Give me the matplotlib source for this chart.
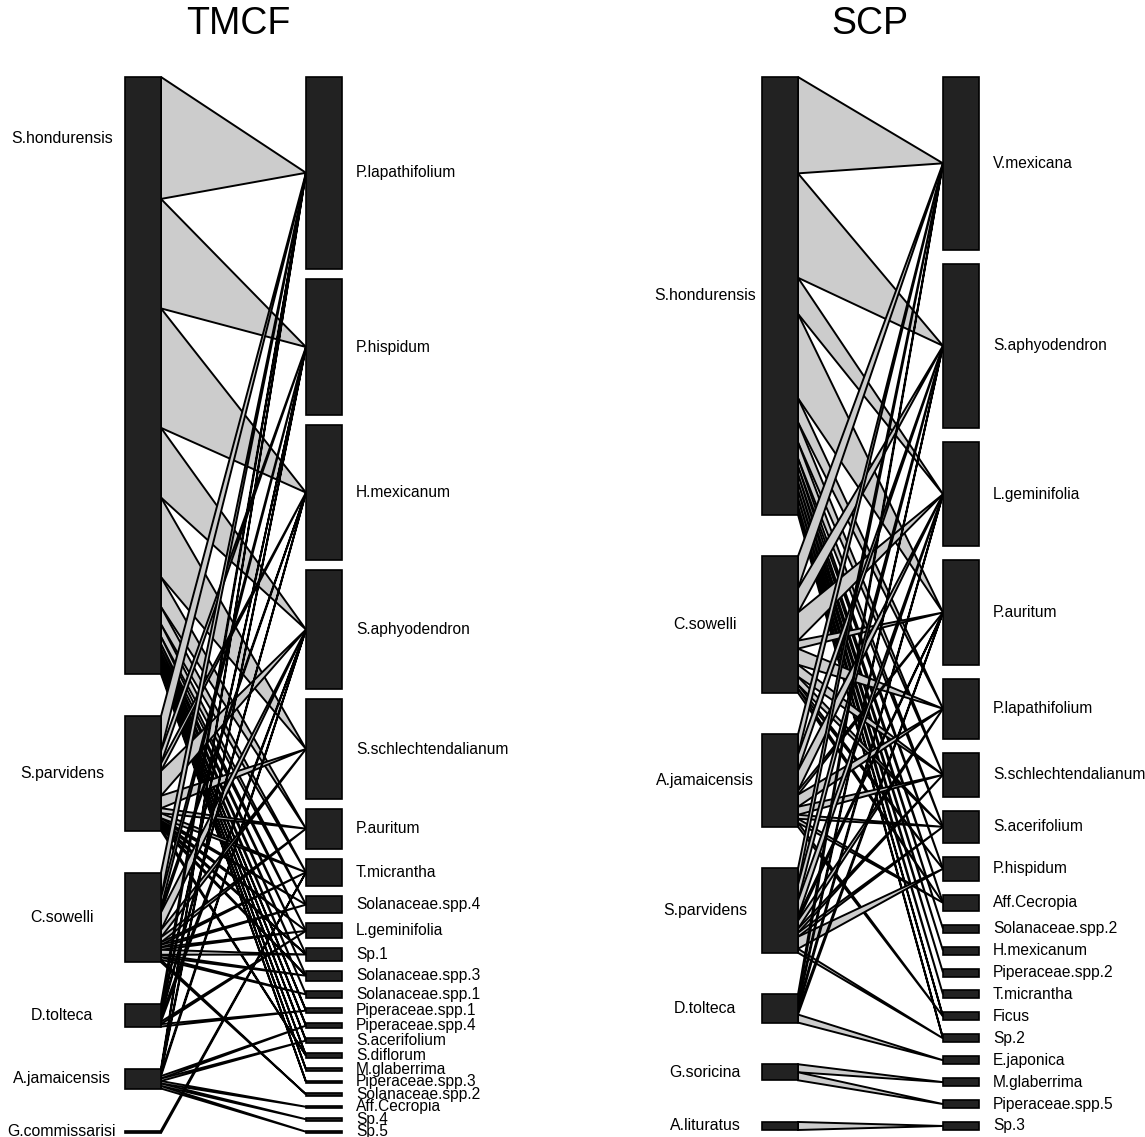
import matplotlib.pyplot as plt
from matplotlib.patches import Rectangle, Polygon

plt.rcParams['font.family'] = ['Liberation Sans', 'DejaVu Sans']

# ---- TMCF: interaction counts, rows = bats, columns = plants ----
tmcf_bats = ['S.hondurensis', 'S.parvidens', 'C.sowelli', 'D.tolteca',
             'A.jamaicensis', 'G.commissarisi']
tmcf_plants = ['P.lapathifolium', 'P.hispidum', 'H.mexicanum', 'S.aphyodendron',
               'S.schlechtendalianum', 'P.auritum', 'T.micrantha', 'Solanaceae.spp.4',
               'L.geminifolia', 'Sp.1', 'Solanaceae.spp.3', 'Solanaceae.spp.1',
               'Piperaceae.spp.1', 'Piperaceae.spp.4', 'S.acerifolium', 'S.diflorum',
               'M.glaberrima', 'Piperaceae.spp.3', 'Solanaceae.spp.2', 'Aff.Cecropia',
               'Sp.4', 'Sp.5']
tmcf_s_hondurensis = [49, 44, 48, 28, 32, 12, 7, 5, 3, 2, 2, 2, 1, 1, 1, 1, 1, 1, 0, 0, 0, 0]
tmcf_s_parvidens = [14, 5, 3, 10, 5, 2, 2, 1, 1, 1, 1, 0, 0, 0, 0, 1, 0, 0, 0, 0, 0, 0]
tmcf_c_sowelli = [10, 4, 2, 7, 3, 2, 1, 1, 1, 2, 1, 1, 0, 0, 0, 0, 0, 0, 1, 0, 0, 0]
tmcf_d_tolteca = [3, 1, 1, 2, 0, 0, 0, 0, 1, 0, 0, 0, 1, 0, 0, 0, 0, 0, 0, 0, 0, 0]
tmcf_a_jamaicensis = [1, 1, 0, 1, 0, 0, 0, 0, 0, 0, 0, 0, 0, 1, 1, 0, 0, 0, 0, 1, 1, 1]
tmcf_g_commissarisi = [0, 0, 0, 0, 0, 0, 1, 0, 0, 0, 0, 0, 0, 0, 0, 0, 0, 0, 0, 0, 0, 0]

# ---- SCP ----
scp_bats = ['S.hondurensis', 'C.sowelli', 'A.jamaicensis', 'S.parvidens',
            'D.tolteca', 'G.soricina', 'A.lituratus']
scp_plants = ['V.mexicana', 'S.aphyodendron', 'L.geminifolia', 'P.auritum',
              'P.lapathifolium', 'S.schlechtendalianum', 'S.acerifolium', 'P.hispidum',
              'Aff.Cecropia', 'Solanaceae.spp.2', 'H.mexicanum', 'Piperaceae.spp.2',
              'T.micrantha', 'Ficus', 'Sp.2', 'E.japonica', 'M.glaberrima',
              'Piperaceae.spp.5', 'Sp.3']
scp_s_hondurensis = [24, 26, 9, 21, 6, 5, 4, 2, 2, 2, 2, 2, 2, 1, 1, 0, 0, 0, 0]
scp_c_sowelli = [8, 6, 7, 2, 4, 3, 2, 1, 1, 0, 0, 0, 0, 0, 0, 0, 0, 0, 0]
scp_a_jamaicensis = [5, 4, 5, 1, 3, 2, 1, 0, 1, 0, 0, 0, 0, 1, 0, 0, 0, 0, 0]
scp_s_parvidens = [4, 4, 4, 1, 2, 1, 1, 3, 0, 0, 0, 0, 0, 0, 1, 0, 0, 0, 0]
scp_d_tolteca = [2, 1, 1, 1, 0, 0, 0, 0, 0, 0, 0, 0, 0, 0, 0, 2, 0, 0, 0]
scp_g_soricina = [0, 0, 0, 0, 0, 0, 0, 0, 0, 0, 0, 0, 0, 0, 0, 0, 2, 2, 0]
scp_a_lituratus = [0, 0, 0, 0, 0, 0, 0, 0, 0, 0, 0, 0, 0, 0, 0, 0, 0, 0, 2]

BOX_W = 36
BOX_COLOR = '#222222'
LINK_COLOR = '#cccccc'


def plotWeb(ax, bats, plants, links, title, xLow, xHigh, top, bottom, gapTotal,
            batLabelX, titleX, labelFrac=None):
    """
    Draw one bipartite web: bats on the left, plants on the right,
    links converge to the centre of each plant box
    """
    batTot = [sum(r) for r in links]
    plantTot = [sum(r[j] for r in links) for j in range(len(plants))]
    total = sum(batTot)
    unit = (bottom - top - gapTotal) / total
    gapLow = gapTotal / (len(bats) - 1)
    gapHigh = gapTotal / (len(plants) - 1)

    # plant boxes
    plantY = []
    y = top
    for t in plantTot:
        plantY.append((y, y + t * unit))
        y += t * unit + gapHigh

    # bat boxes
    batY = []
    y = top
    for t in batTot:
        batY.append((y, y + t * unit))
        y += t * unit + gapLow

    # links
    for i, row in enumerate(links):
        y = batY[i][0]
        for j, w in enumerate(row):
            if w == 0:
                continue
            yc = sum(plantY[j]) / 2
            poly = Polygon([(xLow + BOX_W, y), (xLow + BOX_W, y + w * unit), (xHigh, yc)],
                           closed=True, facecolor=LINK_COLOR, edgecolor='black',
                           lw=1.4, zorder=1)
            ax.add_patch(poly)
            y += w * unit

    # boxes and labels
    for i, (y0, y1) in enumerate(batY):
        ax.add_patch(Rectangle((xLow, y0), BOX_W, y1 - y0, facecolor=BOX_COLOR,
                               edgecolor='black', lw=1.2, zorder=3))
        frac = 0.5 if labelFrac is None else labelFrac[i]
        ax.text(batLabelX, y0 + frac * (y1 - y0), bats[i], ha='center', va='center',
                fontsize=11.4)
    for j, (y0, y1) in enumerate(plantY):
        ax.add_patch(Rectangle((xHigh, y0), BOX_W, y1 - y0, facecolor=BOX_COLOR,
                               edgecolor='black', lw=1.2, zorder=3))
        ax.text(xHigh + BOX_W + 14, (y0 + y1) / 2, plants[j], ha='left', va='center',
                fontsize=11.2)

    ax.text(titleX, 24, title, ha='center', va='center', fontsize=27)


fig = plt.figure(figsize=(11.45, 11.37), dpi=100)
ax = fig.add_axes([0, 0, 1, 1])
ax.set_xlim(0, 1145)
ax.set_ylim(1137, 0)
ax.axis('off')

tmcfLinks = [tmcf_s_hondurensis, tmcf_s_parvidens, tmcf_c_sowelli, tmcf_d_tolteca,
             tmcf_a_jamaicensis, tmcf_g_commissarisi]
scpLinks = [scp_s_hondurensis, scp_c_sowelli, scp_a_jamaicensis, scp_s_parvidens,
            scp_d_tolteca, scp_g_soricina, scp_a_lituratus]

plotWeb(ax, tmcf_bats, tmcf_plants, tmcfLinks, 'TMCF', 125, 306, 77, 1133, 210,
        62, 238, labelFrac=[0.103, 0.5, 0.5, 0.5, 0.5, 0.5])
plotWeb(ax, scp_bats, scp_plants, scpLinks, 'SCP', 762, 943, 77, 1130, 250,
        705, 870)

fig.savefig('out.png', dpi=100)
